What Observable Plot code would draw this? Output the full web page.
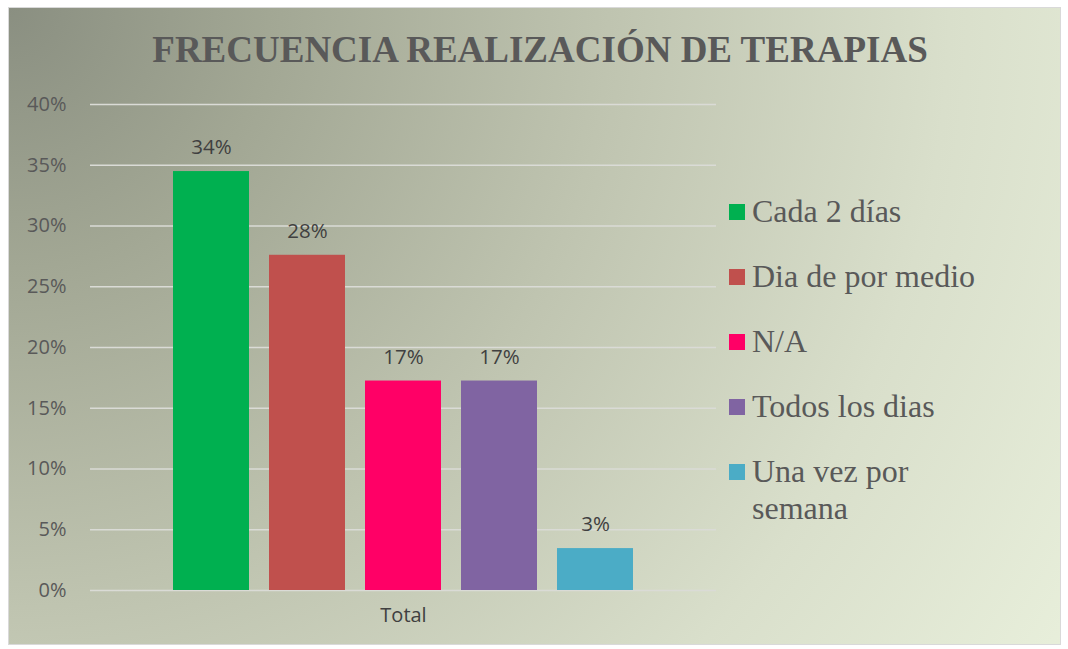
<!DOCTYPE html>
<html>
<head>
<meta charset="utf-8">
<script src="https://cdn.jsdelivr.net/npm/d3@7"></script>
<script src="https://cdn.jsdelivr.net/npm/@observablehq/plot@0.6"></script>
<style>
  html, body { margin: 0; padding: 0; background: #ffffff; width: 1068px; height: 649px; overflow: hidden; }
  #box {
    position: absolute; left: 8px; top: 7px; width: 1053px; height: 638px;
    box-sizing: border-box; border: 1px solid #d9d9d9;
    background: radial-gradient(circle at 0 0, #8a8f81 0px, #a2a794 260px, #bfc4b0 600px, #d9dfcb 940px, #e8efdb 1240px);
  }
  #title {
    position: absolute; left: 0; width: 1080px; top: 28px; text-align: center;
    font-family: "Liberation Serif", "Times New Roman", serif; font-weight: bold;
    font-size: 37px; color: #595959; white-space: nowrap;
  }
  #chart { position: absolute; left: 0; top: 0; }
  #legend { position: absolute; left: 729px; top: 0; font-family: "Liberation Serif", "Times New Roman", serif; font-size: 32px; color: #595959; }
  .item { position: absolute; left: 0; white-space: nowrap; }
  .sw { position: absolute; left: 0; width: 16px; height: 16px; }
  .lab { position: absolute; left: 23px; line-height: 37px; }
</style>
</head>
<body>
<div id="box"></div>
<div id="title">FRECUENCIA REALIZACIÓN DE TERAPIAS</div>
<div id="chart"></div>
<div id="legend"></div>
<script>
const categories = ["Cada 2 días", "Dia de por medio", "N/A", "Todos los dias", "Una vez por semana"];
const legendLines = [["Cada 2 días"], ["Dia de por medio"], ["N/A"], ["Todos los dias"], ["Una vez por", "semana"]];
const values = [0.3448, 0.2759, 0.1724, 0.1724, 0.0345];
const colors = ["#00b050", "#c0504d", "#ff0066", "#8064a2", "#4bacc6"];
const yTicks = [0, 0.05, 0.10, 0.15, 0.20, 0.25, 0.30, 0.35, 0.40];
const groupLabel = ["Total"];

const data = categories.map((c, i) => ({category: c, value: values[i]}));
const pct = d3.format(".0%");

const chart = Plot.plot({
  width: 740,
  height: 645,
  marginLeft: 90,
  marginRight: 24,
  marginTop: 104,
  marginBottom: 55,
  style: {background: "transparent", fontFamily: "Open Sans", fontSize: "20px", color: "#595959", overflow: "visible"},
  x: {domain: categories, paddingInner: 0.21, paddingOuter: 0.857, axis: null},
  y: {domain: [0, 0.40], ticks: yTicks, tickFormat: pct, label: null},
  color: {domain: categories, range: colors},
  marks: [
    Plot.ruleY(yTicks, {stroke: "#dadbd6", strokeWidth: 1.6}),
    Plot.axisY({ticks: yTicks, tickFormat: pct, tickSize: 0, tickPadding: 24, label: null, fontSize: 20}),
    Plot.barY(data, {x: "category", y: "value", fill: "category"}),
    Plot.text(data, {x: "category", y: "value", text: d => pct(d.value), dy: -24, fill: "#404040", fontSize: 20.5}),
    Plot.text(groupLabel, {frameAnchor: "bottom", text: d => d, dy: 31, fill: "#404040", fontSize: 20})
  ]
});
document.getElementById("chart").appendChild(chart);

const legend = document.getElementById("legend");
const rowTop = [204, 269, 334, 399, 464];
legendLines.forEach((lines, i) => {
  const item = document.createElement("div");
  item.className = "item";
  item.style.top = rowTop[i] + "px";
  const sw = document.createElement("div");
  sw.className = "sw";
  sw.style.background = colors[i];
  item.appendChild(sw);
  const lab = document.createElement("div");
  lab.className = "lab";
  lab.style.top = "-11px";
  lab.innerHTML = lines.join("<br>");
  item.appendChild(lab);
  legend.appendChild(item);
});
</script>
</body>
</html>
